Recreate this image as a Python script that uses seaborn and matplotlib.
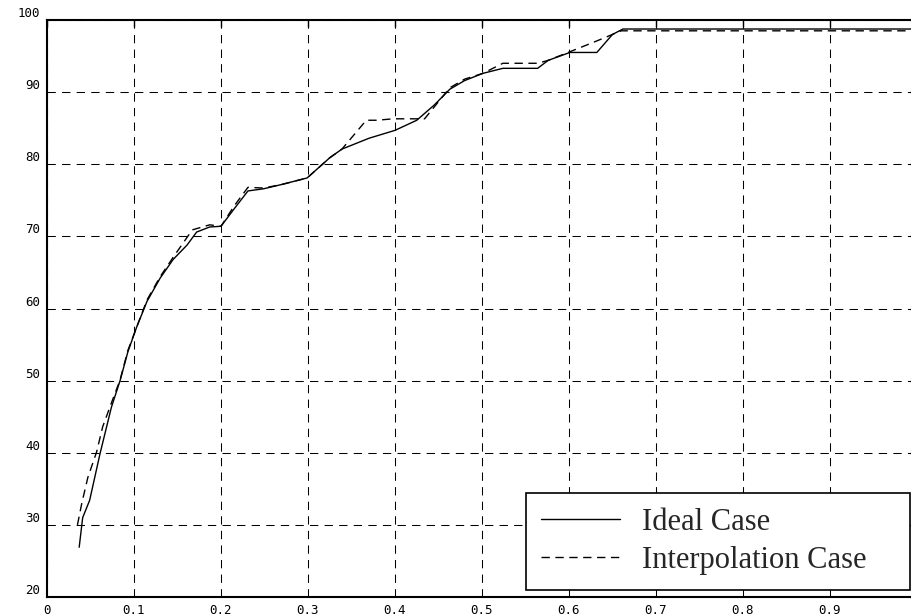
import numpy as np
import pandas as pd
import seaborn as sns
import matplotlib.pyplot as plt

# values
ideal_x = [0.037, 0.041, 0.049, 0.061, 0.074, 0.084, 0.093, 0.103, 0.115, 0.13,
           0.145, 0.161, 0.172, 0.187, 0.2, 0.215, 0.231, 0.249, 0.27, 0.299,
           0.325, 0.339, 0.37, 0.40, 0.425, 0.445, 0.463, 0.48, 0.501, 0.524,
           0.564, 0.576, 0.601, 0.632, 0.65, 0.662, 1.0]
ideal_y = [26.9, 31.0, 33.4, 39.9, 46.3, 50.0, 54.0, 57.4, 61.0, 64.2,
           66.8, 68.8, 70.6, 71.3, 71.4, 73.8, 76.3, 76.6, 77.2, 78.1,
           80.9, 82.1, 83.6, 84.7, 86.1, 88.2, 90.4, 91.6, 92.6, 93.3,
           93.3, 94.4, 95.5, 95.5, 98.0, 98.75, 98.75]

interp_x = [0.035, 0.04, 0.047, 0.057, 0.064, 0.074, 0.084, 0.093, 0.103, 0.115,
            0.13, 0.145, 0.167, 0.187, 0.2, 0.215, 0.231, 0.249, 0.27, 0.299,
            0.325, 0.339, 0.367, 0.379, 0.398, 0.434, 0.463, 0.48, 0.501, 0.524,
            0.564, 0.576, 0.601, 0.63, 0.66, 1.0]
interp_y = [30.0, 33.0, 36.6, 40.1, 43.6, 46.9, 50.1, 54.2, 57.4, 61.2,
            64.4, 67.1, 70.9, 71.6, 71.4, 74.2, 76.8, 76.7, 77.2, 78.1,
            80.9, 82.1, 86.1, 86.1, 86.3, 86.3, 90.6, 91.8, 92.6, 94.0,
            94.0, 94.4, 95.6, 97.0, 98.5, 98.5]

x_ticks = [0, 0.1, 0.2, 0.3, 0.4, 0.5, 0.6, 0.7, 0.8, 0.9]
y_ticks = [20, 30, 40, 50, 60, 70, 80, 90, 100]

df = pd.concat([
    pd.DataFrame({"x": ideal_x, "y": ideal_y, "case": "Ideal Case"}),
    pd.DataFrame({"x": interp_x, "y": interp_y, "case": "Interpolation Case"}),
])

sns.set_style("white")

fig = plt.figure(figsize=(9.12, 6.16), dpi=100)
ax = fig.add_axes([47 / 912, 19 / 616, 870 / 912, 577 / 616])

sns.lineplot(
    data=df, x="x", y="y", style="case",
    dashes={"Ideal Case": "", "Interpolation Case": (6, 4)},
    color="black", linewidth=1.0, estimator=None, sort=False, ax=ax,
)

ax.set_xlim(0, 1)
ax.set_ylim(20, 100)
ax.set_xticks(x_ticks)
ax.set_yticks(y_ticks)
ax.set_xticklabels([f"{t:g}" for t in x_ticks])
ax.set_xlabel("")
ax.set_ylabel("")

ax.grid(True, color="black", linestyle=(0, (8, 6)), linewidth=0.75)
ax.set_axisbelow(True)

for s in ax.spines.values():
    s.set_color("black")
    s.set_linewidth(1.5)

ax.tick_params(direction="in", length=5, width=1, top=True, right=True,
               colors="black", labelsize=9, pad=5)
for lab in ax.get_xticklabels() + ax.get_yticklabels():
    lab.set_family("DejaVu Sans Mono")
for lab in ax.get_yticklabels():
    lab.set_va("bottom")

# legend box spans roughly x 526..910 px, y 493..590 px in the reference
leg = ax.legend(
    loc="lower left", bbox_to_anchor=(0.5506, 0.012, 0.4414, 0.17), mode="expand",
    prop={"family": "Liberation Serif", "size": 22},
    frameon=True, fancybox=False, edgecolor="black",
    handlelength=2.6, handletextpad=0.7, labelspacing=0.3,
    borderpad=0.49, borderaxespad=0,
)
leg.get_frame().set_linewidth(1.2)
leg.get_frame().set_alpha(1)

fig.savefig("out.png", dpi=100)
